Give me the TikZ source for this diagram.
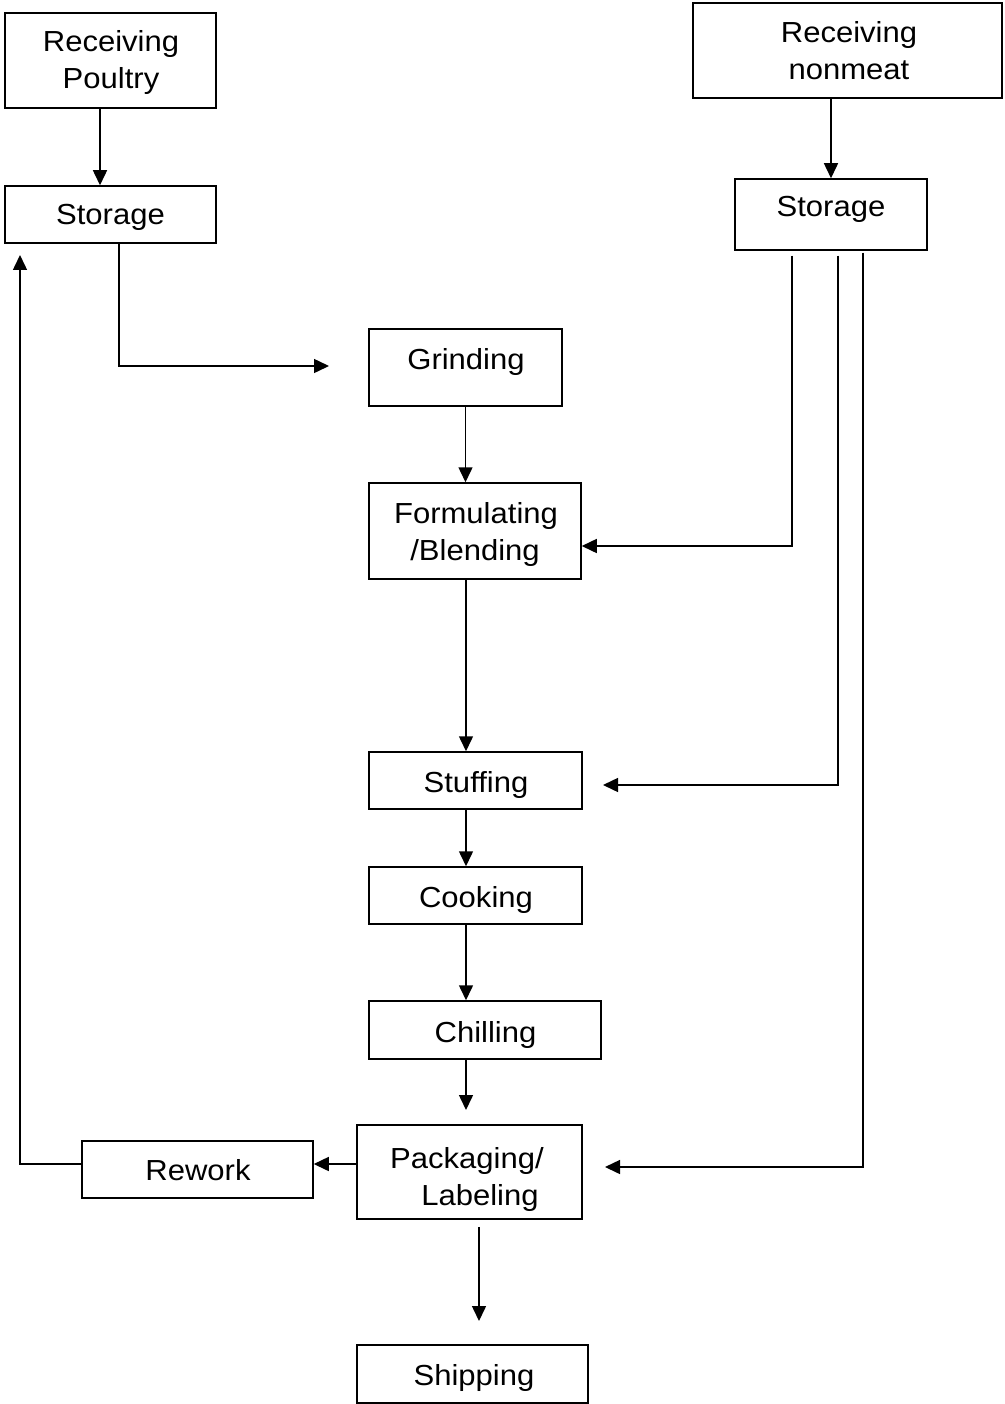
\documentclass[tikz,border=0pt]{standalone}
\usepackage{fontspec}
\setmainfont{Liberation Sans}[FakeStretch=1.07]
\usetikzlibrary{arrows.meta}
\begin{document}
\begin{tikzpicture}[x=1pt,y=-1pt,
  box/.style={draw,line width=1.5pt,inner sep=0pt},
  lbl/.style={anchor=base,inner sep=0pt,font=\fontsize{29}{36}\selectfont},
  arr/.style={line width=1.5pt,-{Triangle[length=15pt,width=14pt]}}]
\useasboundingbox (0,0) rectangle (1004,1404);
% boxes
\node[box,minimum width=211pt,minimum height=95pt] (rp) at (110.5,60.5) {};
\node[box,minimum width=211pt,minimum height=57pt] (sl) at (110.5,214.5) {};
\node[box,minimum width=309pt,minimum height=95pt] (rn) at (847.5,50.5) {};
\node[box,minimum width=192pt,minimum height=71pt] (sr) at (831,214.5) {};
\node[box,minimum width=193pt,minimum height=77pt] (gr) at (465.5,367.5) {};
\node[box,minimum width=212pt,minimum height=96pt] (fb) at (475,531) {};
\node[box,minimum width=213pt,minimum height=57pt] (st) at (475.5,780.5) {};
\node[box,minimum width=213pt,minimum height=57pt] (co) at (475.5,895.5) {};
\node[box,minimum width=232pt,minimum height=58pt] (ch) at (485,1030) {};
\node[box,minimum width=225pt,minimum height=94pt] (pk) at (469.5,1172) {};
\node[box,minimum width=231pt,minimum height=57pt] (rw) at (197.5,1169.5) {};
\node[box,minimum width=231pt,minimum height=58pt] (sh) at (472.5,1374) {};
% texts
\node[lbl] (rp1) at (111,52) {Receiving};
\node[lbl] (rp2) at (111,89) {Poultry};
\node[lbl] (slt) at (110.5,225) {Storage};
\node[lbl] (rn1) at (849,43) {Receiving};
\node[lbl] (rn2) at (849,80) {nonmeat};
\node[lbl] (srt) at (831,217) {Storage};
\node[lbl] (grt) at (466,369) {Grinding};
\node[lbl] (fb1) at (476,523) {Formulating};
\node[lbl] (fb2) at (475,560) {/Blending};
\node[lbl] (stt) at (476,792) {Stuffing};
\node[lbl] (cot) at (476,907) {Cooking};
\node[lbl] (cht) at (485.5,1042) {Chilling};
\node[lbl] (pk1) at (467,1168) {Packaging/};
\node[lbl] (pk2) at (480,1205) {Labeling};
\node[lbl] (rwt) at (198,1180) {Rework};
\node[lbl] (sht) at (474,1385) {Shipping};
% free ends
\coordinate (gin) at (329,366);
\coordinate (pkin) at (466,1110);
\coordinate (shin) at (479,1321);
\coordinate (slin) at (20,255);
\coordinate (stin) at (603,785);
\coordinate (pkin2) at (605,1167);
% connectors
\draw[arr] ([xshift=-10.5pt]rp.south) -- ([xshift=-10.5pt]sl.north);
\draw[arr] ([xshift=8.5pt]sl.south) |- (gin);
\draw[arr] (gr.south) -- (gr.south |- fb.north);
\draw[arr] ([xshift=-9pt]fb.south) -- ([xshift=-9pt]fb.south |- st.north);
\draw[arr] ([xshift=-9.5pt]st.south) -- ([xshift=-9.5pt]st.south |- co.north);
\draw[arr] ([xshift=-9.5pt]co.south) -- ([xshift=-9.5pt]co.south |- ch.north);
\draw[arr] (ch.south -| pkin) -- (pkin);
\draw[arr] ([yshift=-7pt]pk.south -| shin) -- (shin);
\draw[arr] ([yshift=8pt]pk.west) -- ([yshift=8pt]pk.west -| rw.east);
\draw[arr] ([yshift=5.5pt]rw.west) -| (slin);
\draw[arr] (sr.north |- rn.south) -- (sr.north);
\draw[arr] ([xshift=-39pt,yshift=-5pt]sr.south) |- ([yshift=-15pt]fb.east);
\draw[arr] ([xshift=7pt,yshift=-5pt]sr.south) |- (stin);
\draw[arr] ([xshift=32pt,yshift=-2pt]sr.south) |- (pkin2);
\end{tikzpicture}
\end{document}
